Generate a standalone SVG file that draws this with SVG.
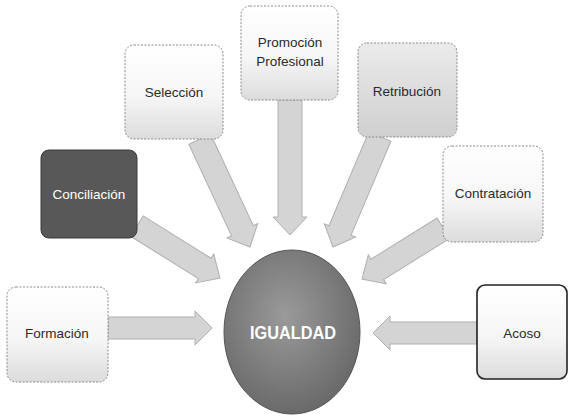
<svg xmlns="http://www.w3.org/2000/svg" width="570" height="416" viewBox="0 0 570 416">
<style>
.box{fill:url(#g);stroke:#8a8a8a;stroke-width:1;stroke-dasharray:2 1.5}
.lbl{font-family:"Liberation Sans",Arial,sans-serif;font-size:13.5px;fill:#2a2a2a;text-anchor:middle}
.arr{fill:#d4d4d4;stroke:#b0b0b0;stroke-width:1}
</style>
<defs>
<linearGradient id="g" x1="0" y1="0" x2="0" y2="1">
<stop offset="0" stop-color="#ffffff"/><stop offset="0.55" stop-color="#f6f6f6"/><stop offset="1" stop-color="#dcdcdc"/>
</linearGradient>
<linearGradient id="g2" x1="0" y1="0" x2="0" y2="1">
<stop offset="0" stop-color="#ebebeb"/><stop offset="1" stop-color="#cfcfcf"/>
</linearGradient>
<radialGradient id="gc" cx="0.45" cy="0.4" r="0.6">
<stop offset="0" stop-color="#9a9a9a"/><stop offset="1" stop-color="#6a6a6a"/>
</radialGradient>
</defs>
<g id="connectors">
<path class="arr" transform="translate(212,328)" d="M-104 -11 L-17 -11 L-17 -17 L0 0 L-17 17 L-17 11 L-104 11 Z"/>
<path class="arr" transform="translate(373,333) rotate(180)" d="M-104 -11 L-17 -11 L-17 -17 L0 0 L-17 17 L-17 11 L-104 11 Z"/>
<path class="arr" transform="translate(290,235) rotate(90)" d="M-135 -12 L-18 -12 L-18 -17 L0 0 L-18 17 L-18 12 L-135 12 Z"/>
<path class="arr" transform="translate(250,247) rotate(65)" d="M-119 -12 L-18 -12 L-18 -17 L0 0 L-18 17 L-18 12 L-119 12 Z"/>
<path class="arr" transform="translate(333,247) rotate(113)" d="M-120 -12 L-18 -12 L-18 -17 L0 0 L-18 17 L-18 12 L-120 12 Z"/>
<path class="arr" transform="translate(220,278) rotate(32)" d="M-98 -12 L-18 -12 L-18 -17 L0 0 L-18 17 L-18 12 L-98 12 Z"/>
<path class="arr" transform="translate(362,279) rotate(148)" d="M-96 -12 L-18 -12 L-18 -17 L0 0 L-18 17 L-18 12 L-96 12 Z"/>
</g>
<g id="igualdad">
<ellipse cx="292" cy="332" rx="68" ry="82" fill="url(#gc)" stroke="#555" stroke-width="1"/>
<text x="293" y="339" font-family="'Liberation Sans',Arial,sans-serif" font-size="18" font-weight="bold" fill="#ffffff" text-anchor="middle" textLength="86" lengthAdjust="spacingAndGlyphs">IGUALDAD</text>
</g>
<g id="seleccion">
<rect class="box" x="125" y="45" width="98" height="94" rx="9"/>
<text class="lbl" x="174" y="97">Selección</text>
</g>
<g id="promocion">
<rect class="box" x="241" y="6" width="97" height="94" rx="9"/>
<text class="lbl" x="290" y="47">Promoción</text>
<text class="lbl" x="290" y="66">Profesional</text>
</g>
<g id="retribucion">
<rect class="box" x="358" y="43" width="99" height="94" rx="9" style="fill:url(#g2)"/>
<text class="lbl" x="407" y="96">Retribución</text>
</g>
<g id="contratacion">
<rect class="box" x="443" y="146" width="100" height="96" rx="9"/>
<text class="lbl" x="493" y="198">Contratación</text>
</g>
<g id="conciliacion">
<rect x="41" y="150" width="96" height="88" rx="8" fill="#585858" stroke="#3a3a3a" stroke-width="1"/>
<text class="lbl" x="89" y="199" style="fill:#fff">Conciliación</text>
</g>
<g id="formacion">
<rect class="box" x="7" y="287" width="101" height="95" rx="9"/>
<text class="lbl" x="57" y="338">Formación</text>
</g>
<g id="acoso">
<rect x="477" y="285" width="90" height="94" rx="8" fill="url(#g)" stroke="#222" stroke-width="1.6"/>
<text class="lbl" x="522" y="338">Acoso</text>
</g>
</svg>
